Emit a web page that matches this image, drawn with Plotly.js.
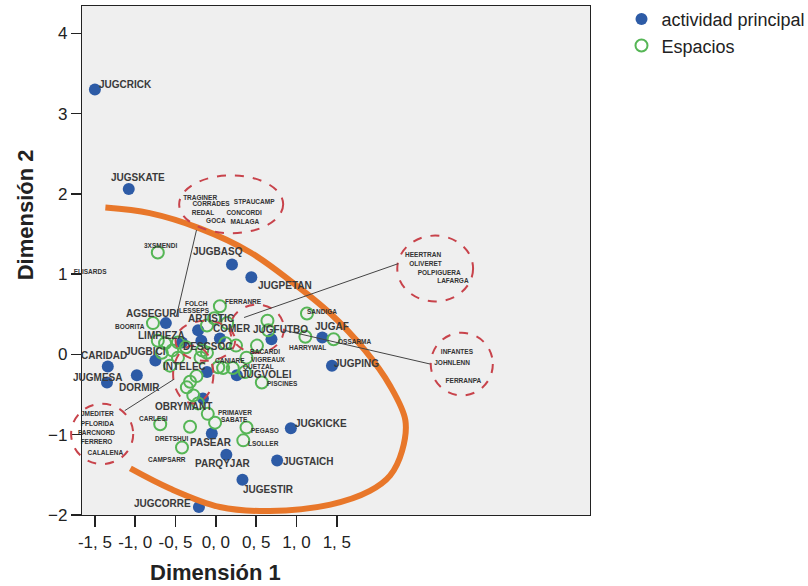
<!DOCTYPE html>
<html>
<head>
<meta charset="utf-8">
<script src="https://cdn.plot.ly/plotly-3.0.1.min.js"></script>
<style>html,body{margin:0;padding:0;background:#fff;}#chart{width:808px;height:586px;}</style>
</head>
<body>
<div id="chart"></div>
<script>
// ---- actividad principal (filled blue points) ----
const blueNames = ['JUGCRICK','JUGSKATE','JUGBASQ','JUGPETAN','AGSEGURI','ARTISTIC','COMER','JUGFUTBO','JUGAF','JUGPING','DESCSOC','JUGBICI','CARIDAD','JUGMESA','DORMIR','INTELEC','JUGVOLEI','LIMPIEZA','OBRYMANT','PASEAR','PARQYJAR','JUGESTIR','JUGTAICH','JUGKICKE','JUGCORRE'];
const blueX = [-1.50,-1.08,0.20,0.44,-0.62,-0.22,0.05,0.69,1.32,1.44,-0.18,-0.75,-1.34,-1.35,-0.98,-0.11,0.26,-0.42,-0.16,-0.05,0.13,0.33,0.76,0.93,-0.21];
const blueY = [3.30,2.06,1.12,0.96,0.39,0.30,0.20,0.19,0.21,-0.14,0.17,-0.075,-0.15,-0.35,-0.26,-0.22,-0.26,0.15,-0.55,-0.985,-1.25,-1.56,-1.32,-0.92,-1.90];

// ---- Espacios (open green circles) ----
const greenNames = ['3XSMENDI','BOORITA','FERRANRE','FOLCH','LESSEPS','SANDIGA','HARRYWAL','OSSARMA','BACARDI','VIGREAUX','CANIARE','QUETZAL','PISCINES','PRIMAVER','SABATE','PEGASO','LSOLLER','CARLESI','DRETSHUI','CAMPSARR',
  '','','','','','','','','','','','','','','','','','','','','','',''];
const greenX = [-0.72,-0.78,0.05,-0.02,-0.11,1.13,1.11,1.46,0.51,0.38,0.03,0.36,0.57,-0.10,-0.01,0.38,0.34,-0.69,-0.32,-0.42,
  -0.63,-0.67,-0.54,-0.47,-0.37,-0.11,0.21,-0.32,-0.24,-0.36,-0.28,0.14,0.12,0.64,0.65,0.25,-0.57,-0.19,-0.47,-0.72,0.09,-0.17,-0.22];
const greenY = [1.27,0.39,0.60,0.45,0.36,0.51,0.22,0.19,0.11,-0.04,-0.16,-0.22,-0.35,-0.74,-0.85,-0.91,-1.07,-0.87,-0.90,-1.16,
  0.14,0.02,0.05,-0.04,0.09,0.02,-0.17,-0.34,-0.27,-0.41,-0.51,0.39,0.14,0.42,0.30,0.11,-0.14,-0.04,0.15,0.17,-0.17,0.05,-0.61];

// ---- grouped Espacios inside dashed ellipses ----
const groupCX = [0.19, 2.72, 3.05, -1.41, 0.51, -0.13, -0.28];
const groupCY = [1.87, 1.07, -0.12, -0.99, 0.32, 0.17, -0.25];
const groupRX = [0.645, 0.47, 0.385, 0.385, 0.335, 0.37, 0.25];
const groupRY = [0.36, 0.41, 0.39, 0.375, 0.30, 0.25, 0.36];
const groupLabels = [
  ['TRAGINER','CORRADES','STPAUCAMP','REDAL','CONCORDI','GOCA','MALAGA'],
  ['HEERTRAN','OLIVERET','POLPIGUERA','LAFARGA'],
  ['INFANTES','JOHNLENN','FERRANPA'],
  ['JMEDITER','PFLORIDA','PARCNORD','FERRERO','CALALENA'],
  [],[],[]
];
const looseLabels = ['ELISARDS'];
const looseX = [-1.56];
const looseY = [1.02];

// connector lines between groups (data units)
const linkX0 = [-0.24, 0.35, 0.85, -1.13];
const linkY0 = [1.55, 0.46, 0.30, -0.70];
const linkX1 = [-0.49, 2.26, 2.66, -0.52];
const linkY1 = [0.47, 1.13, -0.12, -0.31];

// orange highlight curve
const curveX = [-1.37,-0.82,-0.20,0.43,0.92,1.42,1.85,2.16,2.35,2.31,2.16,1.91,1.42,0.67,0.05,-0.57,-1.06];
const curveY = [1.83,1.76,1.57,1.27,0.92,0.51,0.05,-0.39,-0.82,-1.20,-1.51,-1.70,-1.87,-1.95,-1.90,-1.67,-1.42];

// axis ticks
const xTickVals = [-1.5,-1,-0.5,0,0.5,1,1.5];
const xTickText = ['-1, 5','-1, 0','-0, 5','0, 0','0, 5','1, 0','1, 5'];
const yTickVals = [-2,-1,0,1,2,3,4];

// ---- layout-only offsets (pixels, screen dx/dy) ----
const blueLabelOff = [[31,-5],[9,-12],[-14,-13],[34,8],[-13,-10],[13,-12],[12,-10],[9,-10],[10,-11],[25,-2],[6,6],[-10,-9],[-4,-11],[-10,-5],[3,12],[-22,-6],[30,-1],[-20,-7],[-19,8],[-1,9],[-3,9],[26,10],[31,1],[30,-5],[-36,-3]];
const greenLabelOff = [[3,-7],[-23,3],[24,-5],[-18,-15],[-12,-15],[15,-2],[2,11],[21,2],[8,6],[22,2],[12,-7],[14,-5],[21,1],[27,-1],[19,-3],[18,3],[20,3],[-7,-6],[-19,12],[-15,12]];
const groupLabelOff = [
  [[-0.385,0.075],[-0.25,0],[0.285,0.025],[-0.35,-0.11],[0.16,-0.11],[-0.19,-0.21],[0.17,-0.22]],
  [[-0.15,0.16],[-0.12,0.05],[0.05,-0.06],[0.22,-0.16]],
  [[-0.06,0.15],[-0.12,0.01],[0.02,-0.21]],
  [[-0.06,0.24],[-0.06,0.12],[-0.07,0.01],[-0.07,-0.11],[0.04,-0.24]],
  [],[],[]
];

const X_RANGE = [-1.66, 4.64];
const Y_RANGE = [-2, 4.34];
const FONT = 'Arial, "Liberation Sans", sans-serif';
const BLUE = '#2d5ba6';
const GREEN = '#56b656';
const RED = '#c8434b';

const px = v => (v - X_RANGE[0]) / (X_RANGE[1] - X_RANGE[0]);
const py = v => (v - Y_RANGE[0]) / (Y_RANGE[1] - Y_RANGE[0]);

// group label text trace positions
const gtX = [], gtY = [], gtT = [];
groupLabels.forEach((arr, g) => arr.forEach((t, k) => {
  gtX.push(groupCX[g] + groupLabelOff[g][k][0]);
  gtY.push(groupCY[g] + groupLabelOff[g][k][1]);
  gtT.push(t);
}));
looseLabels.forEach((t, i) => { gtX.push(looseX[i]); gtY.push(looseY[i]); gtT.push(t); });

const traces = [
  {type:'scatter', mode:'markers', name:'actividad principal', x:blueX, y:blueY, text:blueNames,
   marker:{color:BLUE, size:12, line:{width:0}}, hoverinfo:'text'},
  {type:'scatter', mode:'markers', name:'Espacios', x:greenX, y:greenY, text:greenNames,
   marker:{symbol:'circle-open', color:GREEN, size:12, line:{width:2, color:GREEN}}, hoverinfo:'text'},
  {type:'scatter', mode:'text', x:gtX, y:gtY, text:gtT, textposition:'middle center', showlegend:false, cliponaxis:false,
   textfont:{family:FONT, size:6.5, color:'#333', weight:'bold'}, hoverinfo:'skip'},
  {type:'scatter', mode:'lines', x:curveX, y:curveY, showlegend:false, hoverinfo:'skip',
   line:{color:'#e8772a', width:6, shape:'spline', smoothing:1}}
];

const shapes = [];
for (let g = 0; g < groupCX.length; g++) {
  shapes.push({type:'circle', xref:'paper', yref:'paper', layer:'above',
    x0:px(groupCX[g]-groupRX[g]), x1:px(groupCX[g]+groupRX[g]), y0:py(groupCY[g]-groupRY[g]), y1:py(groupCY[g]+groupRY[g]),
    line:{color:RED, width:2, dash:'dash'}});
}
for (let i = 0; i < linkX0.length; i++) {
  shapes.push({type:'line', xref:'x', yref:'y', layer:'above', x0:linkX0[i], y0:linkY0[i], x1:linkX1[i], y1:linkY1[i],
    line:{color:'#444', width:1}});
}

const annotations = [];
blueNames.forEach((n, i) => annotations.push({xref:'x', yref:'y', x:blueX[i], y:blueY[i], text:n, showarrow:false,
  xshift:blueLabelOff[i][0], yshift:-blueLabelOff[i][1], font:{family:FONT, size:10, color:'#3a3a3a', weight:'bold'}}));
greenNames.forEach((n, i) => { if (!n) return; annotations.push({xref:'x', yref:'y', x:greenX[i], y:greenY[i], text:n, showarrow:false,
  xshift:greenLabelOff[i][0], yshift:-greenLabelOff[i][1], font:{family:FONT, size:6.5, color:'#333', weight:'bold'}}); });
annotations.push({xref:'paper', yref:'paper', x:0.262, y:-0.112, text:'Dimensión 1', showarrow:false, xanchor:'center', yanchor:'middle',
  font:{family:FONT, size:22, color:'#222', weight:'bold'}});
annotations.push({xref:'paper', yref:'paper', x:-0.112, y:0.589, text:'Dimensión 2', showarrow:false, textangle:-90, xanchor:'center', yanchor:'middle',
  font:{family:FONT, size:22, color:'#222', weight:'bold'}});

const layout = {
  width:808, height:586,
  margin:{l:82, r:218, t:6, b:71, autoexpand:false},
  paper_bgcolor:'#ffffff', plot_bgcolor:'#efefef',
  showlegend:true,
  legend:{x:1.062, y:1.01, xanchor:'left', yanchor:'top', bgcolor:'rgba(0,0,0,0)', borderwidth:0,
    font:{family:FONT, size:18, color:'#222'}},
  xaxis:{range:X_RANGE, tickvals:xTickVals, ticktext:xTickText, ticks:'outside', ticklen:11, tickwidth:1.5, tickcolor:'#222',
    showline:true, mirror:true, linecolor:'#222', linewidth:1.2, showgrid:false, zeroline:false,
    tickfont:{family:FONT, size:17, color:'#222'}},
  yaxis:{range:Y_RANGE, tickvals:yTickVals, ticks:'outside', ticklen:10, tickwidth:1.5, tickcolor:'#222',
    showline:true, mirror:true, linecolor:'#222', linewidth:1.2, showgrid:false, zeroline:false,
    tickfont:{family:FONT, size:17, color:'#222'}},
  shapes:shapes,
  annotations:annotations,
  hovermode:'closest'
};

Plotly.newPlot('chart', traces, layout, {displayModeBar:false, staticPlot:true});
</script>
</body>
</html>
